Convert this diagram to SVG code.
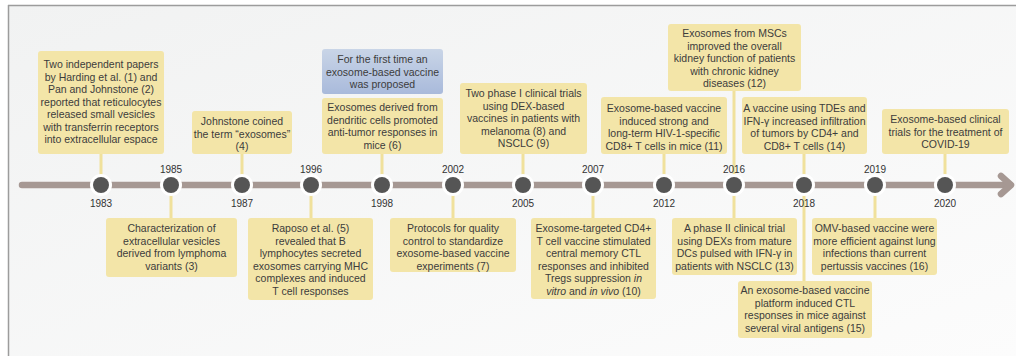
<svg xmlns="http://www.w3.org/2000/svg" width="1016" height="356" viewBox="0 0 1016 356">
<defs>
<linearGradient id="bg" x1="0" y1="0" x2="1" y2="1">
<stop offset="0" stop-color="#f1f2f2"/>
<stop offset="1" stop-color="#fcfcfc"/>
</linearGradient>
<linearGradient id="blue" x1="0" y1="0" x2="0" y2="1">
<stop offset="0" stop-color="#c9d5e7"/>
<stop offset="1" stop-color="#a9badb"/>
</linearGradient>
<style>
.box{fill:#f3e5a8;}
.bluebox{fill:url(#blue);}
.t{font-family:"Liberation Sans",Arial,sans-serif;font-size:10.5px;fill:#3c3c3c;text-anchor:middle;}
.yr{font-family:"Liberation Sans",Arial,sans-serif;font-size:10px;fill:#333;text-anchor:middle;}
.conn{stroke:#f0e19c;stroke-width:3;fill:none;}
.bar{stroke:#a69893;stroke-width:6.5;stroke-linecap:round;stroke-linejoin:round;fill:none;}
.ring{fill:#ffffff;}
.dot{fill:#555555;}
</style>
</defs>
<rect x="0" y="0" width="1016" height="356" fill="#ffffff"/>
<rect x="8" y="5" width="1008" height="351" fill="url(#bg)"/>
<line x1="8" y1="5.5" x2="1016" y2="5.5" stroke="#9c9c9c" stroke-width="1.5"/>
<line x1="8.5" y1="5" x2="8.5" y2="356" stroke="#9c9c9c" stroke-width="1.5"/>

<g id="connectors">
<line class="conn" x1="101" y1="154" x2="101" y2="185"/>
<line class="conn" x1="171" y1="185" x2="171" y2="218"/>
<line class="conn" x1="242" y1="154" x2="242" y2="185"/>
<line class="conn" x1="311" y1="185" x2="311" y2="218"/>
<line class="conn" x1="382" y1="154" x2="382" y2="185"/>
<line class="conn" x1="453" y1="185" x2="453" y2="218"/>
<line class="conn" x1="523" y1="154" x2="523" y2="185"/>
<line class="conn" x1="593" y1="185" x2="593" y2="218"/>
<line class="conn" x1="664" y1="154" x2="664" y2="185"/>
<line class="conn" x1="734" y1="91" x2="734" y2="218"/>
<line class="conn" x1="804" y1="154" x2="804" y2="281"/>
<line class="conn" x1="875" y1="185" x2="875" y2="218"/>
<line class="conn" x1="945" y1="154" x2="945" y2="185"/>
</g>

<g id="timeline">
<line class="bar" x1="22" y1="185" x2="1010" y2="185"/>
<polyline class="bar" points="1001,176 1011,185 1001,194"/>
</g>

<g id="year-1983"><circle class="ring" cx="101" cy="185" r="11"/><circle class="dot" cx="101" cy="185" r="8"/><text class="yr" x="101" y="207">1983</text></g>
<g id="year-1985"><circle class="ring" cx="171" cy="185" r="11"/><circle class="dot" cx="171" cy="185" r="8"/><text class="yr" x="171" y="173">1985</text></g>
<g id="year-1987"><circle class="ring" cx="242" cy="185" r="11"/><circle class="dot" cx="242" cy="185" r="8"/><text class="yr" x="242" y="207">1987</text></g>
<g id="year-1996"><circle class="ring" cx="311" cy="185" r="11"/><circle class="dot" cx="311" cy="185" r="8"/><text class="yr" x="311" y="173">1996</text></g>
<g id="year-1998"><circle class="ring" cx="382" cy="185" r="11"/><circle class="dot" cx="382" cy="185" r="8"/><text class="yr" x="382" y="207">1998</text></g>
<g id="year-2002"><circle class="ring" cx="453" cy="185" r="11"/><circle class="dot" cx="453" cy="185" r="8"/><text class="yr" x="453" y="173">2002</text></g>
<g id="year-2005"><circle class="ring" cx="523" cy="185" r="11"/><circle class="dot" cx="523" cy="185" r="8"/><text class="yr" x="523" y="207">2005</text></g>
<g id="year-2007"><circle class="ring" cx="593" cy="185" r="11"/><circle class="dot" cx="593" cy="185" r="8"/><text class="yr" x="593" y="173">2007</text></g>
<g id="year-2012"><circle class="ring" cx="664" cy="185" r="11"/><circle class="dot" cx="664" cy="185" r="8"/><text class="yr" x="664" y="207">2012</text></g>
<g id="year-2016"><circle class="ring" cx="734" cy="185" r="11"/><circle class="dot" cx="734" cy="185" r="8"/><text class="yr" x="734" y="173">2016</text></g>
<g id="year-2018"><circle class="ring" cx="804" cy="185" r="11"/><circle class="dot" cx="804" cy="185" r="8"/><text class="yr" x="804" y="207">2018</text></g>
<g id="year-2019"><circle class="ring" cx="875" cy="185" r="11"/><circle class="dot" cx="875" cy="185" r="8"/><text class="yr" x="875" y="173">2019</text></g>
<g id="year-2020"><circle class="ring" cx="945" cy="185" r="11"/><circle class="dot" cx="945" cy="185" r="8"/><text class="yr" x="945" y="207">2020</text></g>

<g id="box-1983">
<rect class="box" x="38" y="51" width="126" height="103" rx="3"/>
<text class="t" x="101" y="68">Two independent papers</text>
<text class="t" x="101" y="80.5">by Harding et al. (1) and</text>
<text class="t" x="101" y="93">Pan and Johnstone (2)</text>
<text class="t" x="101" y="105.5">reported that reticulocytes</text>
<text class="t" x="101" y="118">released small vesicles</text>
<text class="t" x="101" y="130.5">with transferrin receptors</text>
<text class="t" x="101" y="143">into extracellular espace</text>
</g>

<g id="box-1985">
<rect class="box" x="106" y="218" width="131" height="59" rx="3"/>
<text class="t" x="171.5" y="232">Characterization of</text>
<text class="t" x="171.5" y="244.5">extracellular vesicles</text>
<text class="t" x="171.5" y="257">derived from lymphoma</text>
<text class="t" x="171.5" y="269.5">variants (3)</text>
</g>

<g id="box-1987">
<rect class="box" x="192" y="111" width="100" height="43" rx="3"/>
<text class="t" x="242" y="125">Johnstone coined</text>
<text class="t" x="242" y="137.5">the term “exosomes”</text>
<text class="t" x="242" y="150">(4)</text>
</g>

<g id="box-1996">
<rect class="box" x="248" y="218" width="125" height="82" rx="3"/>
<text class="t" x="310.5" y="232">Raposo et al. (5)</text>
<text class="t" x="310.5" y="244.5">revealed that B</text>
<text class="t" x="310.5" y="257">lymphocytes secreted</text>
<text class="t" x="310.5" y="269.5">exosomes carrying MHC</text>
<text class="t" x="310.5" y="282">complexes and induced</text>
<text class="t" x="310.5" y="294.5">T cell responses</text>
</g>

<g id="box-1998-blue">
<rect class="bluebox" x="322" y="49" width="121" height="45" rx="3"/>
<text class="t" x="382.5" y="63">For the first time an</text>
<text class="t" x="382.5" y="75.5">exosome-based vaccine</text>
<text class="t" x="382.5" y="88">was proposed</text>
</g>

<g id="box-1998">
<rect class="box" x="322" y="98" width="121" height="56" rx="3"/>
<text class="t" x="382.5" y="111">Exosomes derived from</text>
<text class="t" x="382.5" y="123.5">dendritic cells promoted</text>
<text class="t" x="382.5" y="136">anti-tumor responses in</text>
<text class="t" x="382.5" y="148.5">mice (6)</text>
</g>

<g id="box-2002">
<rect class="box" x="390" y="218" width="126" height="54" rx="3"/>
<text class="t" x="453" y="232">Protocols for quality</text>
<text class="t" x="453" y="244.5">control to standardize</text>
<text class="t" x="453" y="257">exosome-based vaccine</text>
<text class="t" x="453" y="269.5">experiments (7)</text>
</g>

<g id="box-2005">
<rect class="box" x="460" y="83" width="127" height="71" rx="3"/>
<text class="t" x="523.5" y="97">Two phase I clinical trials</text>
<text class="t" x="523.5" y="109.5">using DEX-based</text>
<text class="t" x="523.5" y="122">vaccines in patients with</text>
<text class="t" x="523.5" y="134.5">melanoma (8) and</text>
<text class="t" x="523.5" y="147">NSCLC (9)</text>
</g>

<g id="box-2007">
<rect class="box" x="531" y="218" width="125" height="81" rx="3"/>
<text class="t" x="593.5" y="232">Exosome-targeted CD4+</text>
<text class="t" x="593.5" y="244.5">T cell vaccine stimulated</text>
<text class="t" x="593.5" y="257">central memory CTL</text>
<text class="t" x="593.5" y="269.5">responses and inhibited</text>
<text class="t" x="593.5" y="282">Tregs suppression <tspan font-style="italic">in</tspan></text>
<text class="t" x="593.5" y="294.5"><tspan font-style="italic">vitro</tspan> and <tspan font-style="italic">in vivo</tspan> (10)</text>
</g>

<g id="box-2012">
<rect class="box" x="601" y="97" width="126" height="57" rx="3"/>
<text class="t" x="664" y="112">Exosome-based vaccine</text>
<text class="t" x="664" y="124.5">induced strong and</text>
<text class="t" x="664" y="137">long-term HIV-1-specific</text>
<text class="t" x="664" y="149.5">CD8+ T cells in mice (11)</text>
</g>

<g id="box-2016-top">
<rect class="box" x="668" y="24" width="133" height="67" rx="3"/>
<text class="t" x="734.5" y="37">Exosomes from MSCs</text>
<text class="t" x="734.5" y="49.5">improved the overall</text>
<text class="t" x="734.5" y="62">kidney function of patients</text>
<text class="t" x="734.5" y="74.5">with chronic kidney</text>
<text class="t" x="734.5" y="87">diseases (12)</text>
</g>

<g id="box-2016-bottom">
<rect class="box" x="672" y="218" width="125" height="57" rx="3"/>
<text class="t" x="734.5" y="232">A phase II clinical trial</text>
<text class="t" x="734.5" y="244.5">using DEXs from mature</text>
<text class="t" x="734.5" y="257">DCs pulsed with IFN-γ in</text>
<text class="t" x="734.5" y="269.5">patients with NSCLC (13)</text>
</g>

<g id="box-2018-top">
<rect class="box" x="742" y="97" width="125" height="57" rx="3"/>
<text class="t" x="804.5" y="112">A vaccine using TDEs and</text>
<text class="t" x="804.5" y="124.5">IFN-γ increased infiltration</text>
<text class="t" x="804.5" y="137">of tumors by CD4+ and</text>
<text class="t" x="804.5" y="149.5">CD8+ T cells (14)</text>
</g>

<g id="box-2018-bottom">
<rect class="box" x="738" y="281" width="134" height="57" rx="3"/>
<text class="t" x="805" y="294">An exosome-based vaccine</text>
<text class="t" x="805" y="306.5">platform induced CTL</text>
<text class="t" x="805" y="319">responses in mice against</text>
<text class="t" x="805" y="331.5">several viral antigens (15)</text>
</g>

<g id="box-2019">
<rect class="box" x="812" y="218" width="125" height="57" rx="3"/>
<text class="t" x="874.5" y="232">OMV-based vaccine were</text>
<text class="t" x="874.5" y="244.5">more efficient against lung</text>
<text class="t" x="874.5" y="257">infections than current</text>
<text class="t" x="874.5" y="269.5">pertussis vaccines (16)</text>
</g>

<g id="box-2020">
<rect class="box" x="882" y="109" width="127" height="45" rx="3"/>
<text class="t" x="945.5" y="123">Exosome-based clinical</text>
<text class="t" x="945.5" y="135.5">trials for the treatment of</text>
<text class="t" x="945.5" y="148">COVID-19</text>
</g>
</svg>
